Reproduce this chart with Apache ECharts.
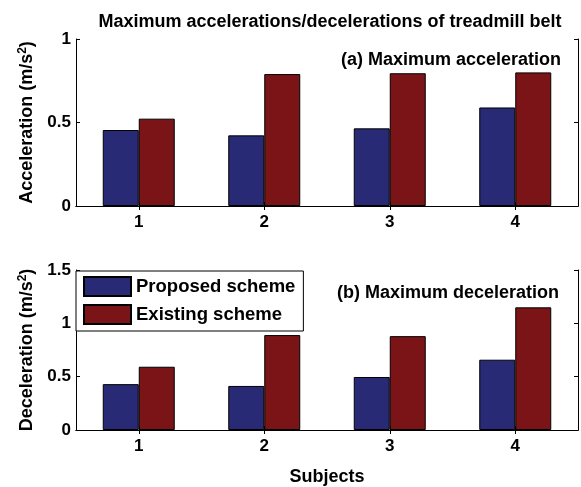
<!DOCTYPE html>
<html><head><meta charset="utf-8">
<script src="https://cdn.jsdelivr.net/npm/echarts@6/dist/echarts.min.js"></script>
<style>html,body{margin:0;padding:0;background:#fff}#c{width:581px;height:487px}</style>
</head><body><div id="c"></div>
<script>
const subjects = ['1', '2', '3', '4'];
const accProposed = [0.455, 0.423, 0.465, 0.59];
const accExisting = [0.523, 0.79, 0.795, 0.80];
const decProposed = [0.43, 0.413, 0.497, 0.659];
const decExisting = [0.593, 0.89, 0.88, 1.15];
const accTicks = [0, 0.5, 1];
const decTicks = [0, 0.5, 1, 1.5];
const seriesNames = ['Proposed scheme', 'Existing scheme'];

const BLUE = '#282a76', RED = '#7b1416';
const FONT = 'Liberation Sans, Arial, sans-serif';
const chart = echarts.init(document.getElementById('c'));
const line = {show: true, lineStyle: {color: '#000', width: 1}};
const tick = {show: true, inside: true, length: 4, alignWithLabel: true, lineStyle: {color: '#000'}};
const lbl = {fontFamily: FONT, fontWeight: 'bold', fontSize: 17, color: '#000'};
function xAx(grid, pos, show, extra) {
  return Object.assign({type: 'category', gridIndex: grid, position: pos, data: subjects,
    axisLine: line, axisTick: tick, splitLine: {show: false},
    axisLabel: Object.assign({show: show, margin: 8}, lbl)}, extra || {});
}
function yAx(grid, pos, show, ticks, extra) {
  return Object.assign({type: 'value', gridIndex: grid, position: pos,
    min: ticks[0], max: ticks[ticks.length - 1], interval: ticks[1] - ticks[0],
    axisLine: line, axisTick: {show: true, inside: true, length: 4, lineStyle: {color: '#000'}},
    splitLine: {show: false},
    axisLabel: Object.assign({show: show, margin: 5}, lbl)}, extra || {});
}
const yName = (t) => ({name: t + ' (m/s{s|2})', nameLocation: 'middle', nameRotate: 90, nameGap: 36,
  nameTextStyle: {fontFamily: FONT, fontWeight: 'bold', fontSize: 18, color: '#000',
    rich: {s: {fontFamily: FONT, fontWeight: 'bold', fontSize: 12, color: '#000', verticalAlign: 'top', padding: [0,0,9,0]}}}});
const bar = (name, data, color, xi, yi) => ({name: name, type: 'bar', xAxisIndex: xi, yAxisIndex: yi,
  data: data, barWidth: 36, barGap: '0%', itemStyle: {color: color, borderColor: '#000', borderWidth: 1}});

chart.setOption({
  animation: false,
  backgroundColor: '#fff',
  title: [
    {text: 'Maximum accelerations/decelerations of treadmill belt', left: 325, top: 8, textAlign: 'center',
      textStyle: {fontFamily: FONT, fontWeight: 'bold', fontSize: 18, color: '#000'}},
    {text: '(a) Maximum acceleration', right: 15, top: 46,
      textStyle: {fontFamily: FONT, fontWeight: 'bold', fontSize: 18, color: '#000'}},
    {text: '(b) Maximum deceleration', right: 17, top: 279,
      textStyle: {fontFamily: FONT, fontWeight: 'bold', fontSize: 18, color: '#000'}}
  ],
  legend: {data: seriesNames, left: 76, top: 271, orient: 'vertical', itemWidth: 47, itemHeight: 19, itemGap: 7,
    padding: [5, 8, 6, 7], borderColor: '#000', borderWidth: 1, backgroundColor: '#fff', icon: 'rect',
    textStyle: {fontFamily: FONT, fontWeight: 'bold', fontSize: 18.5, color: '#000'}},
  grid: [
    {left: 76, top: 39, width: 502, height: 167},
    {left: 76, top: 270, width: 502, height: 167}
  ],
  xAxis: [
    xAx(0, 'bottom', true),
    xAx(0, 'top', false),
    xAx(1, 'bottom', true, {name: 'Subjects', nameLocation: 'middle', nameGap: 38,
      nameTextStyle: {fontFamily: FONT, fontWeight: 'bold', fontSize: 18, color: '#000'}}),
    xAx(1, 'top', false)
  ],
  yAxis: [
    yAx(0, 'left', true, accTicks, yName('Acceleration')),
    yAx(0, 'right', false, accTicks),
    yAx(1, 'left', true, decTicks, yName('Deceleration')),
    yAx(1, 'right', false, decTicks)
  ],
  series: [
    bar(seriesNames[0], accProposed, BLUE, 0, 0),
    bar(seriesNames[1], accExisting, RED, 0, 0),
    bar(seriesNames[0], decProposed, BLUE, 2, 2),
    bar(seriesNames[1], decExisting, RED, 2, 2)
  ]
});
</script></body></html>
